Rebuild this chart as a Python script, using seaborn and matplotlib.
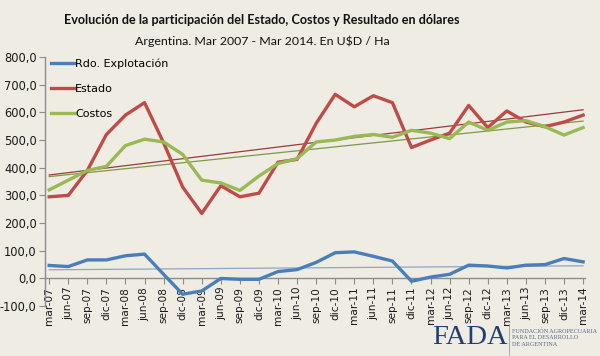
import numpy as np
import pandas as pd
import matplotlib
matplotlib.use("Agg")
import matplotlib.pyplot as plt
import seaborn as sns

periods = ["mar-07", "jun-07", "sep-07", "dic-07", "mar-08", "jun-08", "sep-08", "dic-08",
           "mar-09", "jun-09", "sep-09", "dic-09", "mar-10", "jun-10", "sep-10", "dic-10",
           "mar-11", "jun-11", "sep-11", "dic-11", "mar-12", "jun-12", "sep-12", "dic-12",
           "mar-13", "jun-13", "sep-13", "dic-13", "mar-14"]
rdo = [47, 43, 67, 67, 82, 88, 15, -57, -45, 0, -3, -3, 25, 32, 58, 93, 96, 80, 63, -10,
       5, 15, 48, 45, 38, 48, 50, 72, 60]
estado = [295, 300, 390, 520, 590, 635, 490, 330, 235, 335, 295, 308, 420, 430, 560, 665,
          620, 660, 635, 473, 500, 525, 625, 545, 605, 565, 548, 565, 590]
costos = [320, 355, 390, 405, 480, 503, 493, 448, 355, 345, 318, 370, 415, 433, 493, 500,
          513, 520, 510, 535, 525, 505, 565, 535, 565, 570, 548, 518, 545]
series_names = ["Rdo. Explotación", "Estado", "Costos"]
yticks = [-100, 0, 100, 200, 300, 400, 500, 600, 700, 800]

colors = {"Rdo. Explotación": "#4A7EBB", "Estado": "#BE4B48", "Costos": "#98B954"}
trend_colors = {"Rdo. Explotación": "#8FA6C4", "Estado": "#9B3B3A", "Costos": "#7C9A45"}

x = np.arange(len(periods))
df = pd.DataFrame({"x": np.tile(x, 3),
                   "value": rdo + estado + costos,
                   "serie": np.repeat(series_names, len(periods))})

bg = "#EFECE4"
fig = plt.figure(figsize=(6.0, 3.56), dpi=100, facecolor=bg)
ax = fig.add_axes([0.075, 0.14, 0.9, 0.70])
ax.set_facecolor(bg)

for name in series_names:
    sub = df[df.serie == name]
    sns.regplot(data=sub, x="x", y="value", ax=ax, scatter=False, ci=None,
                line_kws={"color": trend_colors[name], "lw": 0.9, "zorder": 3})
for name in series_names:
    sub = df[df.serie == name]
    sns.lineplot(data=sub, x="x", y="value", ax=ax, color=colors[name], lw=2.4,
                 label=name, zorder=4, legend=False)

ax.set_ylim(-100, 800)
ax.set_xlim(-0.22, 28.1)
ax.set_xlabel("")
ax.set_ylabel("")
ax.spines["top"].set_visible(False)
ax.spines["right"].set_visible(False)
ax.spines["bottom"].set_position(("data", 0))
for s in ["left", "bottom"]:
    ax.spines[s].set_color("#8C8C8C")
    ax.spines[s].set_linewidth(1.0)
ax.tick_params(axis="x", direction="out", length=4, color="#8C8C8C", pad=2,
               labelrotation=90, labelsize=7.6, labelcolor="#1A1A1A")
ax.tick_params(axis="y", direction="out", length=4, color="#8C8C8C", pad=2,
               labelsize=8.3, labelcolor="#1A1A1A")
ax.set_yticks(yticks)
ax.set_yticklabels([f"{v:.1f}".replace(".", ",") for v in yticks])
ax.set_xticks(x)
ax.set_xticklabels(periods)
ax.grid(False)

handles = [plt.Line2D([], [], color=colors[n], lw=2.4) for n in series_names]
ax.legend(handles, series_names, loc="upper left", bbox_to_anchor=(-0.007, 1.035),
          frameon=False, fontsize=8, handlelength=2.1, handletextpad=0.05,
          labelspacing=1.35)

fig.text(0.437, 0.944, "Evolución de la participación del Estado, Costos y Resultado en dólares",
         ha="center", va="center", fontsize=9.1, fontweight="bold", family="Lato", color="#111111")
fig.text(0.437, 0.884, "Argentina. Mar 2007 - Mar 2014. En U$D / Ha",
         ha="center", va="center", fontsize=8.9, family="Lato", color="#111111")

fig.text(0.72, 0.052, "FADA", ha="left", va="center", fontsize=20.5, family="Liberation Serif",
         color="#1F3F73")
fig.add_artist(plt.Line2D([0.848, 0.848], [0.003, 0.09], transform=fig.transFigure,
                          color="#9A9A9A", lw=0.6))
fig.text(0.853, 0.052, "FUNDACIÓN AGROPECUARIA\nPARA EL DESARROLLO\nDE ARGENTINA",
         ha="left", va="center", fontsize=4.4, family="Liberation Serif", color="#5A6A8A",
         linespacing=1.35)

fig.savefig("out.png", dpi=100, facecolor=bg)
